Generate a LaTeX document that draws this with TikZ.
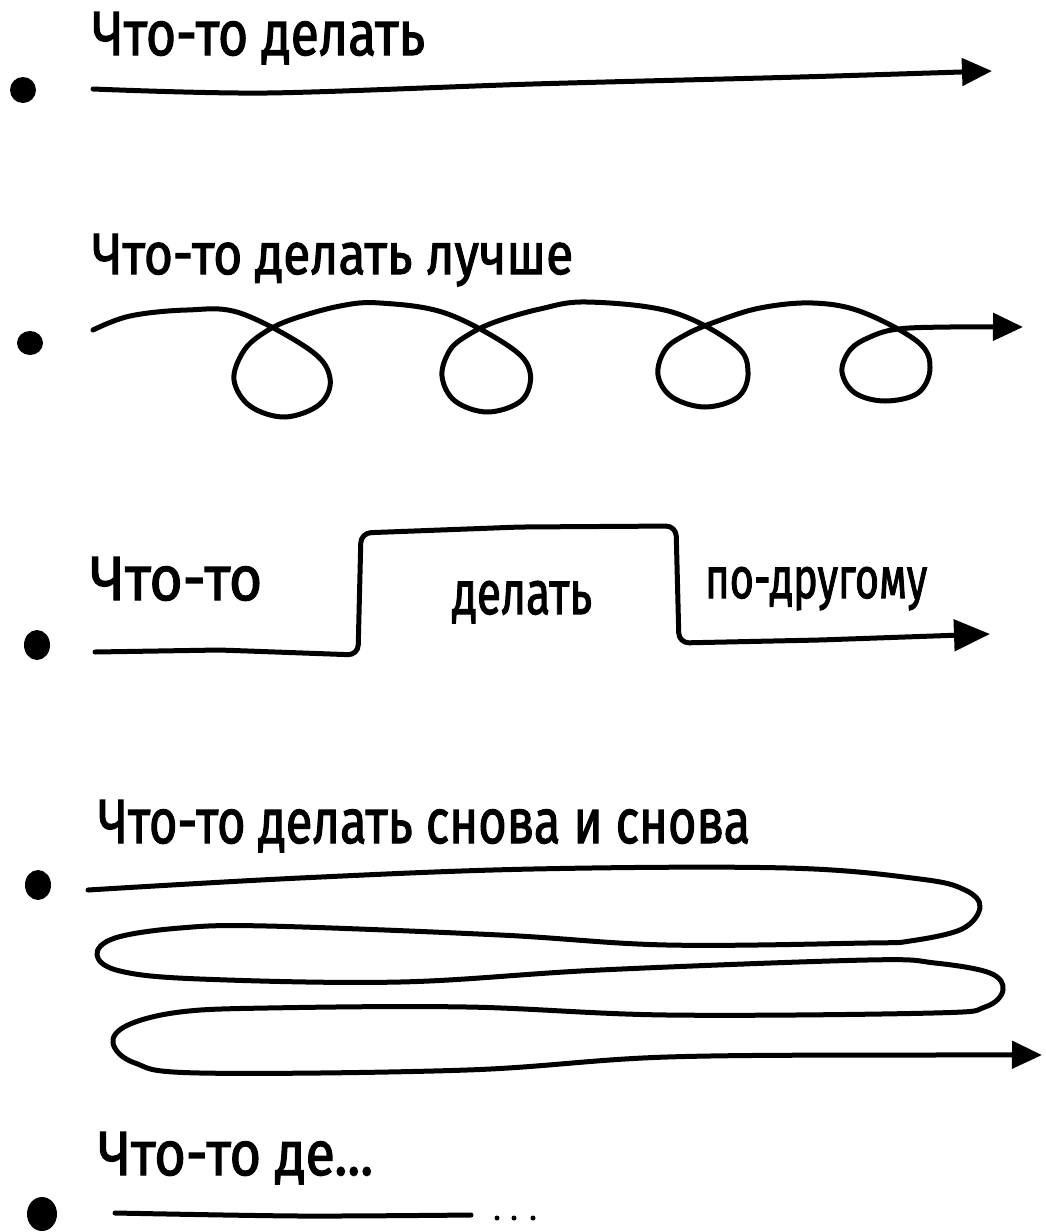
\documentclass[tikz,border=0pt]{standalone}
\usepackage{fontspec}
\usepackage{graphicx}
\newfontfamily\handfont[FakeBold=2]{Fira Sans}
\usetikzlibrary{arrows.meta}
\newcommand\hwtext[3]{\resizebox{#1pt}{#2pt}{\handfont #3}}
\begin{document}
\begin{tikzpicture}[x=1pt,y=-1pt,
  ink/.style={line width=5pt, line cap=round, line join=round},
  tip/.style={-{Triangle[length=30pt,width=27pt]}},
  bigtip/.style={-{Triangle[length=36pt,width=31pt]}},
  lbl/.style={anchor=base west, inner sep=0pt, font=\fontsize{50}{60}\selectfont}]
\fill[white] (0,0) rectangle (1046,1232);
\useasboundingbox (0,0) rectangle (1046,1232);

% row 1
\fill (23,90) ellipse [x radius=13, y radius=13];
\node[lbl] (t1) at (92,55) {\hwtext{333}{43}{Что-то делать}};
\draw[ink, tip] plot[smooth] coordinates {(93,89) (267,93) (533,84) (800,77) (992,71)};

% row 2
\fill (30,343) ellipse [x radius=13, y radius=12];
\node[lbl] (t2) at (92,274) {\hwtext{481}{40}{Что-то делать лучше}};
\draw[ink, tip] plot[smooth, tension=0.6] coordinates {(93,330) (130,316) (187,310) (240,313) (310,350) (330,378) (320,404) (285,417) (250,406) (234,380) (243,352) (262,334) (290,320) (340,306) (380,303) (445,313) (510,347) (530,372) (522,400) (488,412) (455,401) (442,376) (450,350) (468,335) (495,322) (540,309) (587,302) (672,312) (735,345) (748,372) (738,397) (705,407) (672,397) (658,375) (665,350) (685,335) (715,322) (760,308) (813,303) (862,312) (918,342) (930,368) (918,393) (885,401) (855,393) (842,372) (850,350) (870,337) (898,329) (950,327) (1023,327)};

% row 3
\fill (37,645) ellipse [x radius=13, y radius=15];
\node[lbl] (t3a) at (90,600) {\hwtext{172}{43}{Что-то}};
\node[lbl] (t3b) at (452,614) {\hwtext{140}{33}{делать}};
\node[lbl] (t3c) at (705,598) {\hwtext{222}{31}{по-другому}};
\draw[ink, bigtip, rounded corners=10pt] (95,652) -- (220,650) -- (358,655) -- (361,533) -- (520,527) -- (676,526) -- (679,643) -- (820,640) -- (990,634);

% row 4
\fill (38,885) ellipse [x radius=13, y radius=15];
\node[lbl] (t4) at (98,843) {\hwtext{652}{43}{Что-то делать снова и снова}};
\draw[ink, tip] plot[smooth, tension=0.6] coordinates {(88,890) (300,878) (533,869) (787,868) (920,879) (965,890) (980,907) (962,929) (910,941) (867,943) (667,945) (500,935) (267,926) (180,928) (115,938) (97,955) (120,971) (200,979) (400,982) (600,970) (867,960) (935,963) (990,973) (1003,990) (985,1007) (933,1013) (667,1015) (467,1007) (267,1008) (180,1012) (128,1025) (113,1043) (135,1063) (200,1073) (467,1070) (667,1057) (933,1055) (1042,1055)};

% row 5
\fill (42,1214) ellipse [x radius=15, y radius=17];
\node[lbl] (t5) at (98,1175) {\hwtext{275}{43}{Что-то де...}};
\draw[ink] plot[smooth] coordinates {(115,1213) (300,1216) (471,1215)};
\fill (497,1218) circle [radius=2.5];
\fill (514,1218) circle [radius=2.5];
\fill (533,1218) circle [radius=2.5];
\end{tikzpicture}
\end{document}
